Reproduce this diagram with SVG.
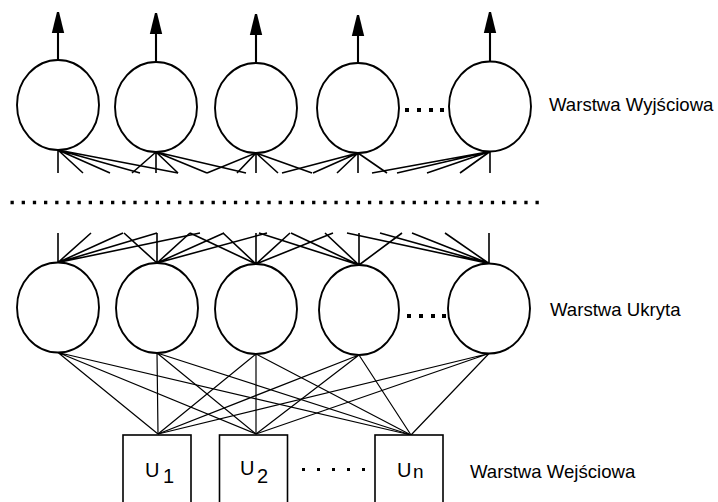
<svg xmlns="http://www.w3.org/2000/svg" width="718" height="502" viewBox="0 0 718 502">
<defs>
<marker id="ah" markerUnits="userSpaceOnUse" markerWidth="22" markerHeight="14" viewBox="0 0 22 14" refX="21" refY="7" orient="auto">
<path d="M0,0.8 L21,6 L21,8 L0,13.2 z" fill="#000"/>
</marker>
<style>
.node{fill:#fff;stroke:#000;stroke-width:1.9}
.out{stroke:#000;stroke-width:2.1;fill:none}
.fan{stroke:#000;stroke-width:1.6;fill:none}
.wire{stroke:#000;stroke-width:1.2;fill:none}
.dot{fill:#000}
.lbl{font-family:"Liberation Sans",Arial,sans-serif;font-size:18.6px;fill:#000}
.u{font-family:"Liberation Sans",Arial,sans-serif;font-size:20px;fill:#000}
</style>
</defs>
<rect width="718" height="502" fill="#fff"/>

<g id="connectors">
<g id="top-fan" class="fan">
<path d="M58,150 L58,173 M58,150 L83,173 M58,150 L110,173 M58,150 L140,173 M58,150 L178,173"/>
<path d="M156,152 L132,173 M156,152 L156,173 M156,152 L178,173 M156,152 L207,173 M156,152 L246,173"/>
<path d="M256,153 L207,173 M256,153 L237,173 M256,153 L256,173 M256,153 L278,173 M256,153 L312,173"/>
<path d="M358,153 L282,173 M358,153 L313,173 M358,153 L337,173 M358,153 L358,173 M358,153 L387,173"/>
<path d="M490,151.5 L372,173 M490,151.5 L397,173 M490,151.5 L427,173 M490,151.5 L460,173 M490,151.5 L490,173"/>
</g>
<g id="hidden-fan" class="fan">
<path d="M58,262.5 L58,233 M58,262.5 L91,233 M58,262.5 L123,233 M58,262.5 L157,233 M58,262.5 L200,233"/>
<path d="M157,263 L124,233 M157,263 L157,233 M157,263 L190,233 M157,263 L224,233 M157,263 L267,233"/>
<path d="M256,264 L190,233 M256,264 L223,233 M256,264 L256,233 M256,264 L290,233 M256,264 L333,233"/>
<path d="M359,265 L259,233 M359,265 L291,233 M359,265 L325,233 M359,265 L359,233 M359,265 L402,233"/>
<path d="M489,263.5 L347,233 M489,263.5 L380,233 M489,263.5 L412,233 M489,263.5 L445,233 M489,263.5 L489,233"/>
</g>
<g id="input-wires" class="wire">
<path d="M58,352.5 L158,434 M58,352.5 L256,434 M58,352.5 L411,435"/>
<path d="M157,353 L158,434 M157,353 L256,434 M157,353 L411,435"/>
<path d="M256,354 L158,434 M256,354 L256,434 M256,354 L411,435"/>
<path d="M359,355 L158,434 M359,355 L256,434 M359,355 L411,435"/>
<path d="M489,353.5 L158,434 M489,353.5 L256,434 M489,353.5 L411,435"/>
</g>
</g>

<line id="separator" x1="10.5" y1="202.5" x2="541" y2="202.5" stroke="#000" stroke-width="3.3" stroke-dasharray="3.3 7.87"/>

<g id="output-layer">
<g id="out1"><ellipse class="node" cx="58" cy="105" rx="41" ry="45"/><line class="out" x1="58" y1="60" x2="58" y2="12" marker-end="url(#ah)"/></g>
<g id="out2"><ellipse class="node" cx="156" cy="107" rx="41" ry="45"/><line class="out" x1="156" y1="62" x2="156" y2="13" marker-end="url(#ah)"/></g>
<g id="out3"><ellipse class="node" cx="256" cy="108" rx="41" ry="45"/><line class="out" x1="256" y1="63" x2="256" y2="14" marker-end="url(#ah)"/></g>
<g id="out4"><ellipse class="node" cx="358" cy="108" rx="41" ry="45"/><line class="out" x1="358" y1="63" x2="358" y2="15" marker-end="url(#ah)"/></g>
<g id="out5"><ellipse class="node" cx="490" cy="106.5" rx="41" ry="45"/><line class="out" x1="490" y1="61.5" x2="490" y2="12" marker-end="url(#ah)"/></g>
<g id="out-ellipsis" class="dot"><rect x="405" y="108" width="4" height="4"/><rect x="417" y="108" width="4" height="4"/><rect x="429" y="108" width="4" height="4"/><rect x="440" y="108" width="4" height="4"/></g>
<text id="out-label" class="lbl" x="549" y="111">Warstwa Wyjściowa</text>
</g>

<g id="hidden-layer">
<g id="hid1"><ellipse class="node" cx="58" cy="307.5" rx="41" ry="45"/></g>
<g id="hid2"><ellipse class="node" cx="157" cy="308" rx="41" ry="45"/></g>
<g id="hid3"><ellipse class="node" cx="256" cy="309" rx="41" ry="45"/></g>
<g id="hid4"><ellipse class="node" cx="359" cy="310" rx="40" ry="45"/></g>
<g id="hid5"><ellipse class="node" cx="489" cy="308.5" rx="41" ry="45"/></g>
<g id="hid-ellipsis" class="dot"><rect x="407" y="314" width="4" height="4"/><rect x="419" y="314" width="4" height="4"/><rect x="431" y="314" width="4" height="4"/><rect x="442" y="314" width="4" height="4"/></g>
<text id="hid-label" class="lbl" x="550" y="316">Warstwa Ukryta</text>
</g>

<g id="input-layer">
<g id="in1"><rect class="node" x="123" y="435" width="68" height="72" style="stroke-width:1.6"/><text class="u" x="145" y="477">U<tspan x="163" y="483">1</tspan></text></g>
<g id="in2"><rect class="node" x="219.5" y="435" width="68" height="72" style="stroke-width:1.6"/><text class="u" x="240" y="475">U<tspan x="257" y="483">2</tspan></text></g>
<g id="inN"><rect class="node" x="375" y="435" width="68" height="72" style="stroke-width:1.6"/><text class="u" x="397" y="477">U<tspan x="413" y="478" style="font-size:19px">n</tspan></text></g>
<g id="in-ellipsis" class="dot"><rect x="302" y="468" width="3" height="3"/><rect x="317" y="468" width="3" height="3"/><rect x="332" y="468" width="3" height="3"/><rect x="347" y="468" width="3" height="3"/><rect x="362" y="468" width="3" height="3"/></g>
<text id="in-label" class="lbl" x="470" y="478">Warstwa Wejściowa</text>
</g>
</svg>
